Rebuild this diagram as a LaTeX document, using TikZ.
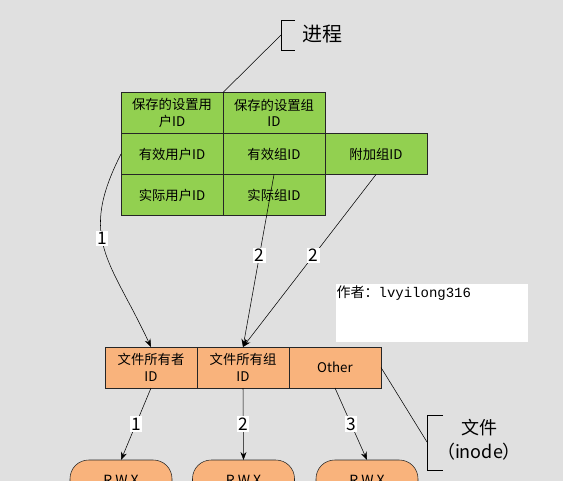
\documentclass[tikz,border=0pt]{standalone}
\usepackage{fontspec}
\setmainfont{Noto Sans CJK SC}
\setmonofont{Liberation Mono}
\usetikzlibrary{positioning, arrows.meta}

\definecolor{bggray}{HTML}{E0E0E0}
\definecolor{procgreen}{HTML}{92D050}
\definecolor{fileorange}{HTML}{F9B37C}

\begin{document}
\begin{tikzpicture}[x=0.75pt, y=-0.75pt,
    cell/.style={rectangle, draw=black!85, fill=procgreen, minimum width=76.5pt, minimum height=30.75pt,
      outer sep=0pt, inner sep=1pt, align=center, font=\fontsize{10}{12.5}\selectfont},
    fcell/.style={rectangle, draw=black!85, fill=fileorange, minimum width=69pt, minimum height=30.75pt,
      outer sep=0pt, inner sep=1pt, align=center, font=\fontsize{10}{12.5}\selectfont},
    perm/.style={rectangle, draw=black!85, fill=fileorange, rounded corners=14pt, minimum width=76.5pt,
      minimum height=30pt, outer sep=0pt, font=\fontsize{10.5}{12}\selectfont},
    numlab/.style={fill=white, inner sep=1pt, font=\fontsize{13}{14}\selectfont},
    line/.style={draw, -{Stealth[length=6pt, width=4.5pt]}, thin}]

    \clip (0,0) rectangle (563,481);
    \fill[bggray] (0,0) rectangle (563,481);

    % process ids
    \node [cell] (su) at (172,113) {保存的设置用\\户ID};
    \node [cell, right=0pt of su] (sg) {保存的设置组\\ID};
    \node [cell, below=0pt of su] (eu) {有效用户ID};
    \node [cell, right=0pt of eu] (ez) {有效组ID};
    \node [cell, right=0pt of ez] (fj) {附加组ID};
    \node [cell, below=0pt of eu] (ru) {实际用户ID};
    \node [cell, right=0pt of ru] (rz) {实际组ID};

    % file ids
    \node [fcell] (fo) at (151,367.5) {文件所有者\\ID};
    \node [fcell, right=0pt of fo] (fg) {文件所有组\\ID};
    \node [fcell, right=0pt of fg] (ot) {Other};

    % permissions
    \node [perm] (p1) at (121,480) {R W X};
    \node [perm] (p2) at (243.5,480) {R W X};
    \node [perm] (p3) at (367,480) {R W X};

    % brackets
    \coordinate (pb) at (281,35);
    \draw (295,20) -- (281,20) -- (281,50) -- (295,50);
    \node [font=\fontsize{15}{18}\selectfont] (jc) at (322,34) {进程};
    \draw (pb) -- (su.north east);

    \coordinate (fb) at (427,442);
    \draw (443,415) -- (427,415) -- (427,470) -- (443,470);
    \node [align=center, font=\fontsize{13.5}{18}\selectfont] (wj) at (479,440) {文件\\（inode）};
    \draw (ot.east) -- (fb);

    % watermark
    \fill[white] (336,284) rectangle (528,342);
    \node [anchor=north west, inner sep=1pt, font=\fontsize{10.5}{12}\selectfont] (zz) at (335,284)
      {作者：\texttt{lvyilong316}};

    \path [line] (eu.west) to[out=243, in=115, looseness=1.25] node[numlab, pos=0.43] {1} (fo.north);
    \path [line] (ez.south) -- node[numlab, pos=0.47] {2} (fg.north);
    \path [line] (fj.south) -- node[numlab, pos=0.47] {2} (fg.north);

    \path [line] (fo.south) -- node[numlab] {1} (p1.north);
    \path [line] (fg.south) -- node[numlab] {2} (p2.north);
    \path [line] (ot.south) -- node[numlab] {3} (p3.north);
\end{tikzpicture}
\end{document}
